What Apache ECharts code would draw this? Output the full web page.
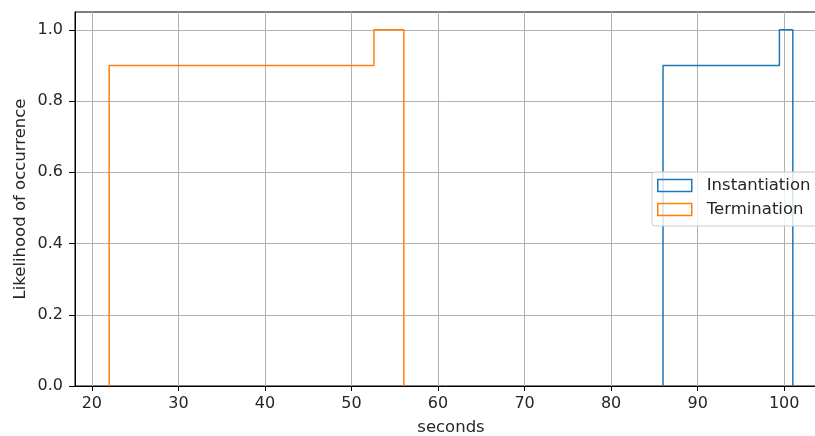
<!DOCTYPE html>
<html>
<head>
<meta charset="utf-8">
<script src="https://cdn.jsdelivr.net/npm/echarts@6/dist/echarts.min.js"></script>
<style>
html,body{margin:0;padding:0;background:#fff;overflow:hidden;}
#chart{width:815px;height:436px;}
</style>
</head>
<body>
<div id="chart"></div>
<script>
// Series names
const seriesNames = ['Instantiation', 'Termination'];
// Bin edges where the cumulative step changes (seconds)
const instantiationEdges = [86.0, 99.45, 101.0];
const terminationEdges = [22.0, 52.6, 56.05];
// Cumulative likelihood in each step segment
const instantiationValues = [0.9, 1.0];
const terminationValues = [0.9, 1.0];
// Tick labels
const xTicks = [20, 30, 40, 50, 60, 70, 80, 90, 100];
const yTicks = [0.0, 0.2, 0.4, 0.6, 0.8, 1.0];
// Axis ranges
const xRange = [18.05, 104.95];
const yRange = [0, 1.05];

function stepPath(edges, values) {
  const pts = [[edges[0], 0]];
  for (let i = 0; i < values.length; i++) {
    pts.push([edges[i], values[i]]);
    pts.push([edges[i + 1], values[i]]);
  }
  pts.push([edges[edges.length - 1], 0]);
  return pts;
}

const colors = ['#1f77b4', '#ff7f0e'];
const font = 'DejaVu Sans';
const textColor = '#262626';

const chart = echarts.init(document.getElementById('chart'), null, {renderer: 'canvas'});
chart.setOption({
  animation: false,
  backgroundColor: '#ffffff',
  grid: {
    left: 75, top: 12, width: 752, bottom: 50,
    containLabel: false, outerBoundsMode: 'none',
    show: true, borderColor: '#000', borderWidth: 1, backgroundColor: 'transparent'
  },
  legend: {
    orient: 'vertical',
    left: 652, top: 172,
    padding: [5, 20, 8, 5],
    itemGap: 7,
    itemWidth: 34, itemHeight: 12,
    backgroundColor: 'rgba(255,255,255,0.8)',
    borderColor: '#cccccc', borderWidth: 1, borderRadius: 3,
    textStyle: {fontFamily: font, fontSize: 16.5, lineHeight: 17, color: textColor, padding: [0, 0, 0, 10]},
    data: seriesNames.map((n, i) => ({
      name: n, icon: 'rect',
      itemStyle: {color: 'rgba(0,0,0,0)', borderColor: colors[i], borderWidth: 1.5}
    }))
  },
  xAxis: {
    type: 'value', min: xRange[0], max: xRange[1],
    name: 'seconds', nameLocation: 'middle', nameGap: 33, nameMoveOverlap: false,
    nameTextStyle: {fontFamily: font, fontSize: 16.5, color: textColor},
    axisLine: {show: true, onZero: false, lineStyle: {color: '#000', width: 1}},
    axisTick: {show: true, length: 5, lineStyle: {color: '#000'}, customValues: xTicks},
    axisLabel: {fontFamily: font, fontSize: 16, color: textColor, margin: 10, customValues: xTicks,
      formatter: v => String(Math.round(v))},
    splitLine: {show: true, lineStyle: {color: '#b0b0b0', width: 1}}
  },
  yAxis: {
    type: 'value', min: yRange[0], max: yRange[1],
    name: 'Likelihood of occurrence', nameLocation: 'middle', nameGap: 46, nameRotate: 90,
    nameMoveOverlap: false,
    nameTextStyle: {fontFamily: font, fontSize: 16.5, color: textColor},
    axisLine: {show: true, lineStyle: {color: '#000', width: 1}},
    axisTick: {show: true, length: 6, lineStyle: {color: '#000'}, customValues: yTicks},
    axisLabel: {fontFamily: font, fontSize: 16, color: textColor, margin: 12, customValues: yTicks,
      formatter: v => v.toFixed(1)},
    splitLine: {show: true, lineStyle: {color: '#b0b0b0', width: 1}}
  },
  series: [
    {
      name: seriesNames[0], type: 'line', symbol: 'none',
      data: stepPath(instantiationEdges, instantiationValues),
      lineStyle: {color: colors[0], width: 1.5},
      itemStyle: {color: colors[0]}
    },
    {
      name: seriesNames[1], type: 'line', symbol: 'none',
      data: stepPath(terminationEdges, terminationValues),
      lineStyle: {color: colors[1], width: 1.5},
      itemStyle: {color: colors[1]}
    }
  ]
});
</script>
</body>
</html>
